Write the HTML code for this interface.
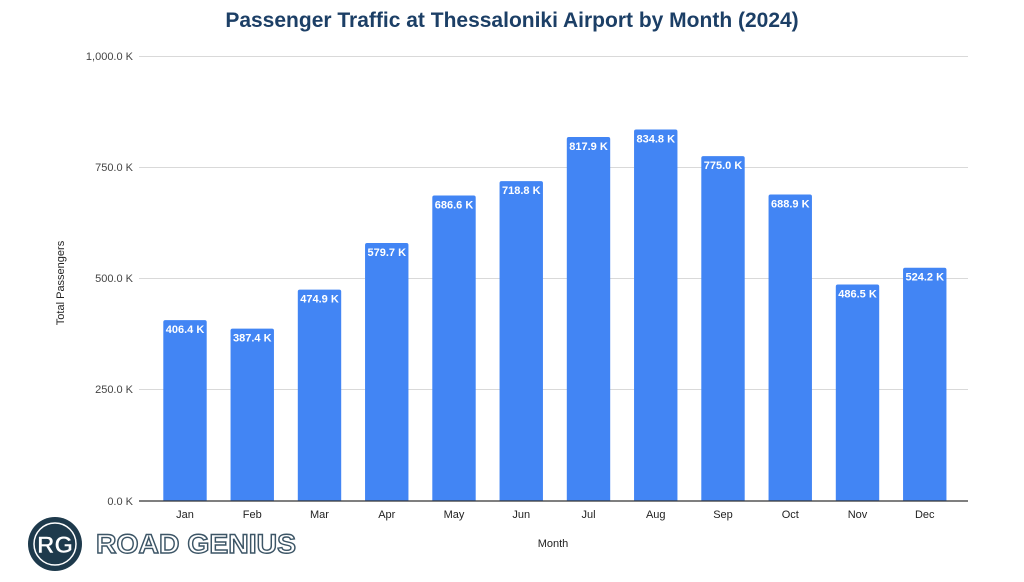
<!DOCTYPE html>
<html><head><meta charset="utf-8"><style>
body{margin:0;background:#fff;width:1024px;height:582px;overflow:hidden}
svg{display:block;font-family:"Liberation Sans",Arial,sans-serif}
</style></head><body>
<svg width="1024" height="582" viewBox="0 0 1024 582">
<text x="512" y="27" text-anchor="middle" font-size="21" font-weight="bold" fill="#1c3f66">Passenger Traffic at Thessaloniki Airport by Month (2024)</text>
<g stroke="#d9d9d9" stroke-width="1">
<line x1="139" x2="968" y1="56.5" y2="56.5"/>
<line x1="139" x2="968" y1="167.5" y2="167.5"/>
<line x1="139" x2="968" y1="278.5" y2="278.5"/>
<line x1="139" x2="968" y1="389.5" y2="389.5"/>
</g>
<g font-size="11" fill="#444" text-anchor="end">
<text x="133" y="60">1,000.0 K</text>
<text x="133" y="171">750.0 K</text>
<text x="133" y="282">500.0 K</text>
<text x="133" y="393">250.0 K</text>
<text x="133" y="505">0.0 K</text>
</g>
<text transform="translate(64,283) rotate(-90)" text-anchor="middle" font-size="11" fill="#222">Total Passengers</text>
<text x="553" y="547" text-anchor="middle" font-size="11" fill="#222">Month</text>
<g id="bars" fill="#4285f4"></g>
<g id="labels" font-size="11" font-weight="bold" fill="#fff" text-anchor="middle"></g>
<g id="ticks" font-size="11" fill="#222" text-anchor="middle"></g>
<line x1="139" x2="968" y1="501" y2="501" stroke="#333" stroke-width="1.2"/>
<circle cx="55" cy="544" r="27" fill="#1e3a4c"/>
<circle cx="55" cy="544" r="21" fill="none" stroke="#fff" stroke-width="1.5"/>
<text x="55" y="553" text-anchor="middle" font-size="24" font-weight="bold" fill="#fff" stroke="#1e3a4c" stroke-width="0.6">RG</text>
<text x="96" y="553" font-size="27" font-weight="bold" fill="#fff" stroke="#3c5566" stroke-width="1.4" textLength="200" lengthAdjust="spacingAndGlyphs">ROAD GENIUS</text>
</svg>
<script>
var v=[406.4,387.4,474.9,579.7,686.6,718.8,817.9,834.8,775.0,688.9,486.5,524.2];
var m=["Jan","Feb","Mar","Apr","May","Jun","Jul","Aug","Sep","Oct","Nov","Dec"];
var ns="http://www.w3.org/2000/svg",b=document.getElementById("bars"),l=document.getElementById("labels"),t=document.getElementById("ticks");
v.forEach(function(x,i){var c=185+i*67.25,h=x*0.445,y=501-h;
var r=document.createElementNS(ns,"path");
r.setAttribute("d","M"+(c-21.7)+",501V"+(y+2)+"q0,-2 2,-2H"+(c+19.7)+"q2,0 2,2V501Z");b.appendChild(r);
var s=document.createElementNS(ns,"text");s.setAttribute("x",c);s.setAttribute("y",y+13);s.textContent=x.toFixed(1)+" K";l.appendChild(s);
var u=document.createElementNS(ns,"text");u.setAttribute("x",c);u.setAttribute("y",518);u.textContent=m[i];t.appendChild(u);});
</script>
</body></html>
